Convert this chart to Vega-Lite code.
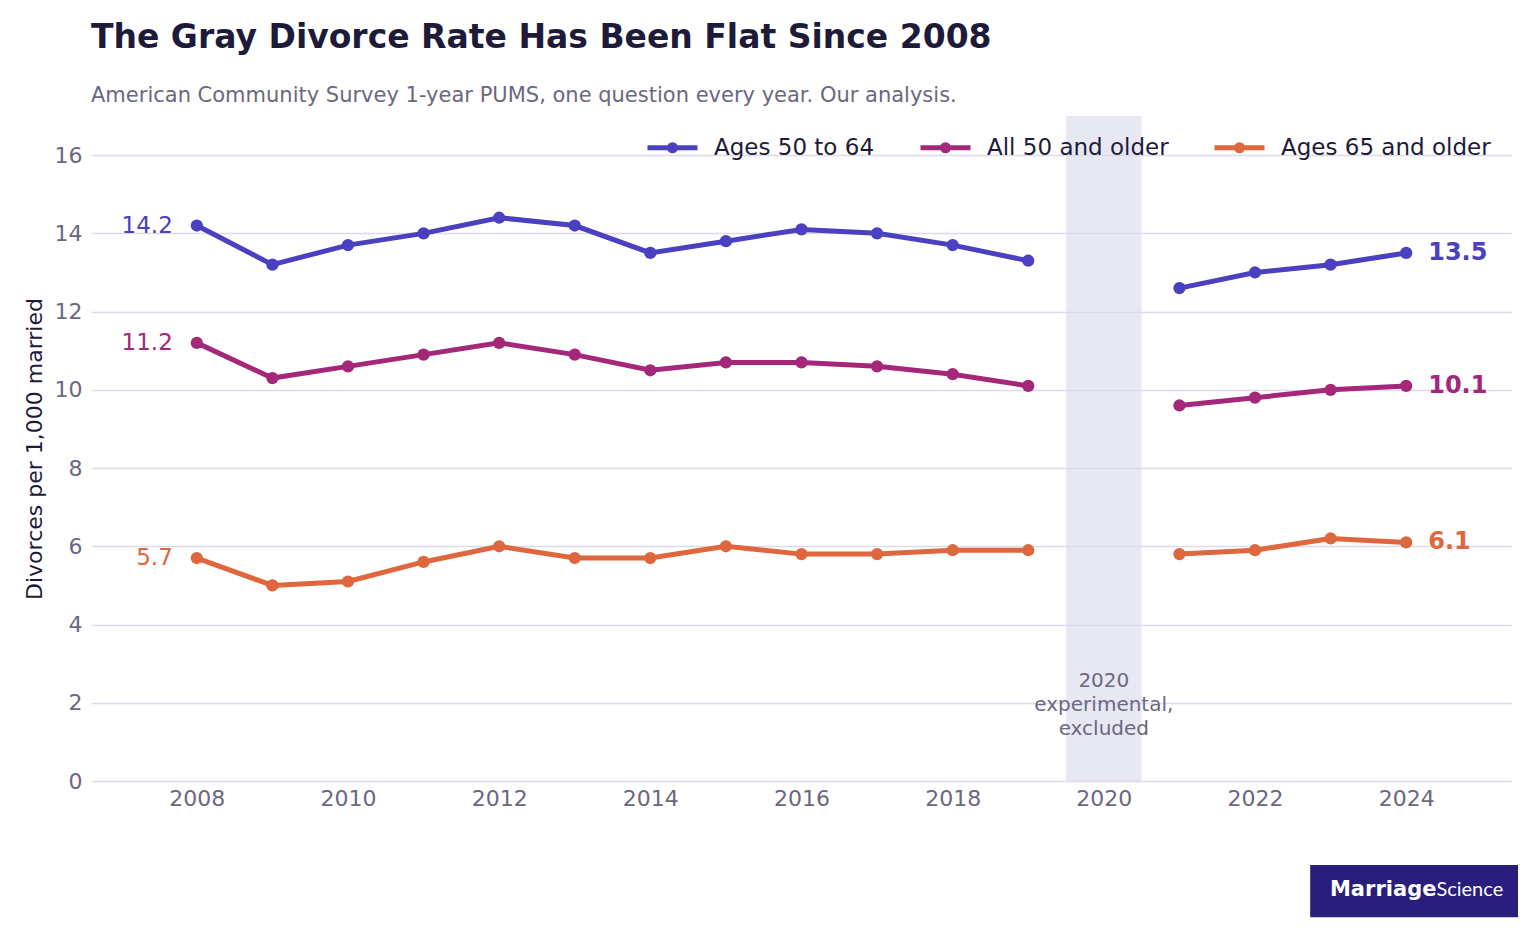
{
  "$schema": "https://vega.github.io/schema/vega-lite/v6.json",
  "autosize": "none",
  "padding": {"left": 91, "top": 116, "right": 24, "bottom": 147},
  "width": 1421,
  "height": 665,
  "background": "white",
  "title": {
    "text": "The Gray Divorce Rate Has Been Flat Since 2008",
    "subtitle": "American Community Survey 1-year PUMS, one question every year. Our analysis.",
    "anchor": "start",
    "frame": "group",
    "font": "DejaVu Sans",
    "fontSize": 33,
    "fontWeight": "bold",
    "color": "#1e1b3a",
    "subtitleFont": "DejaVu Sans",
    "subtitleFontSize": 21,
    "subtitleColor": "#6b6880",
    "subtitlePadding": 30,
    "offset": 10
  },
  "datasets": {
    "rates": [
      {"year": 2008, "group": "Ages 50 to 64", "rate": 14.2, "period": "before"},
      {"year": 2009, "group": "Ages 50 to 64", "rate": 13.2, "period": "before"},
      {"year": 2010, "group": "Ages 50 to 64", "rate": 13.7, "period": "before"},
      {"year": 2011, "group": "Ages 50 to 64", "rate": 14.0, "period": "before"},
      {"year": 2012, "group": "Ages 50 to 64", "rate": 14.4, "period": "before"},
      {"year": 2013, "group": "Ages 50 to 64", "rate": 14.2, "period": "before"},
      {"year": 2014, "group": "Ages 50 to 64", "rate": 13.5, "period": "before"},
      {"year": 2015, "group": "Ages 50 to 64", "rate": 13.8, "period": "before"},
      {"year": 2016, "group": "Ages 50 to 64", "rate": 14.1, "period": "before"},
      {"year": 2017, "group": "Ages 50 to 64", "rate": 14.0, "period": "before"},
      {"year": 2018, "group": "Ages 50 to 64", "rate": 13.7, "period": "before"},
      {"year": 2019, "group": "Ages 50 to 64", "rate": 13.3, "period": "before"},
      {"year": 2021, "group": "Ages 50 to 64", "rate": 12.6, "period": "after"},
      {"year": 2022, "group": "Ages 50 to 64", "rate": 13.0, "period": "after"},
      {"year": 2023, "group": "Ages 50 to 64", "rate": 13.2, "period": "after"},
      {"year": 2024, "group": "Ages 50 to 64", "rate": 13.5, "period": "after"},
      {"year": 2008, "group": "All 50 and older", "rate": 11.2, "period": "before"},
      {"year": 2009, "group": "All 50 and older", "rate": 10.3, "period": "before"},
      {"year": 2010, "group": "All 50 and older", "rate": 10.6, "period": "before"},
      {"year": 2011, "group": "All 50 and older", "rate": 10.9, "period": "before"},
      {"year": 2012, "group": "All 50 and older", "rate": 11.2, "period": "before"},
      {"year": 2013, "group": "All 50 and older", "rate": 10.9, "period": "before"},
      {"year": 2014, "group": "All 50 and older", "rate": 10.5, "period": "before"},
      {"year": 2015, "group": "All 50 and older", "rate": 10.7, "period": "before"},
      {"year": 2016, "group": "All 50 and older", "rate": 10.7, "period": "before"},
      {"year": 2017, "group": "All 50 and older", "rate": 10.6, "period": "before"},
      {"year": 2018, "group": "All 50 and older", "rate": 10.4, "period": "before"},
      {"year": 2019, "group": "All 50 and older", "rate": 10.1, "period": "before"},
      {"year": 2021, "group": "All 50 and older", "rate": 9.6, "period": "after"},
      {"year": 2022, "group": "All 50 and older", "rate": 9.8, "period": "after"},
      {"year": 2023, "group": "All 50 and older", "rate": 10.0, "period": "after"},
      {"year": 2024, "group": "All 50 and older", "rate": 10.1, "period": "after"},
      {"year": 2008, "group": "Ages 65 and older", "rate": 5.7, "period": "before"},
      {"year": 2009, "group": "Ages 65 and older", "rate": 5.0, "period": "before"},
      {"year": 2010, "group": "Ages 65 and older", "rate": 5.1, "period": "before"},
      {"year": 2011, "group": "Ages 65 and older", "rate": 5.6, "period": "before"},
      {"year": 2012, "group": "Ages 65 and older", "rate": 6.0, "period": "before"},
      {"year": 2013, "group": "Ages 65 and older", "rate": 5.7, "period": "before"},
      {"year": 2014, "group": "Ages 65 and older", "rate": 5.7, "period": "before"},
      {"year": 2015, "group": "Ages 65 and older", "rate": 6.0, "period": "before"},
      {"year": 2016, "group": "Ages 65 and older", "rate": 5.8, "period": "before"},
      {"year": 2017, "group": "Ages 65 and older", "rate": 5.8, "period": "before"},
      {"year": 2018, "group": "Ages 65 and older", "rate": 5.9, "period": "before"},
      {"year": 2019, "group": "Ages 65 and older", "rate": 5.9, "period": "before"},
      {"year": 2021, "group": "Ages 65 and older", "rate": 5.8, "period": "after"},
      {"year": 2022, "group": "Ages 65 and older", "rate": 5.9, "period": "after"},
      {"year": 2023, "group": "Ages 65 and older", "rate": 6.2, "period": "after"},
      {"year": 2024, "group": "Ages 65 and older", "rate": 6.1, "period": "after"}
    ]
  },
  "data": {"name": "rates"},
  "layer": [
    {
      "data": {"values": [{}]},
      "mark": {"type": "rect", "color": "#d9d9ee", "opacity": 0.6},
      "encoding": {
        "x": {"datum": 2019.5, "type": "quantitative"},
        "x2": {"datum": 2020.5},
        "y": {"datum": 0, "type": "quantitative"},
        "y2": {"datum": 17}
      }
    },
    {
      "data": {"values": [{}]},
      "mark": {
        "type": "text",
        "align": "center",
        "baseline": "alphabetic",
        "fontSize": 20,
        "lineHeight": 24,
        "color": "#6b6880",
        "text": ["2020", "experimental,", "excluded"]
      },
      "encoding": {
        "x": {"datum": 2020, "type": "quantitative"},
        "y": {"datum": 2.4, "type": "quantitative"}
      }
    },
    {
      "mark": {"type": "line", "strokeWidth": 5, "point": {"filled": true, "size": 150}},
      "encoding": {
        "x": {
          "field": "year",
          "type": "quantitative",
          "scale": {"domain": [2006.6, 2025.4], "nice": false, "zero": false},
          "axis": {
            "title": null,
            "values": [2008, 2010, 2012, 2014, 2016, 2018, 2020, 2022, 2024],
            "format": "d",
            "grid": false,
            "ticks": false,
            "domain": false,
            "labelPadding": 7
          }
        },
        "y": {
          "field": "rate",
          "type": "quantitative",
          "scale": {"domain": [0, 17], "nice": false},
          "axis": {
            "title": "Divorces per 1,000 married",
            "values": [0, 2, 4, 6, 8, 10, 12, 14, 16],
            "grid": true,
            "gridColor": "#dcdcec",
            "gridWidth": 1.5,
            "ticks": false,
            "domain": false,
            "labelPadding": 9,
            "titlePadding": 8
          }
        },
        "color": {
          "field": "group",
          "type": "nominal",
          "scale": {
            "domain": ["Ages 50 to 64", "All 50 and older", "Ages 65 and older"],
            "range": ["#4a40c0", "#a5277a", "#de673d"]
          },
          "legend": {
            "title": null,
            "orient": "none",
            "direction": "horizontal",
            "legendX": 554,
            "legendY": 4,
            "symbolType": "M-1,0H1M0.12,0A0.12,0.12,0,1,1,-0.12,0A0.12,0.12,0,1,1,0.12,0",
            "symbolSize": 2500,
            "symbolStrokeWidth": 5,
            "labelFontSize": 23,
            "labelLimit": 400,
            "labelColor": "#1e1b3a",
            "labelOffset": 14,
            "columnPadding": 35,
            "encode": {
              "symbols": {"update": {"fill": {"field": "value", "scale": "color"}}}
            }
          }
        },
        "detail": {"field": "period"}
      }
    },
    {
      "transform": [{"filter": "datum.year == 2008"}],
      "mark": {"type": "text", "align": "right", "dx": -24, "fontSize": 23, "baseline": "middle"},
      "encoding": {
        "x": {"field": "year", "type": "quantitative"},
        "y": {"field": "rate", "type": "quantitative"},
        "text": {"field": "rate", "type": "quantitative", "format": ".1f"},
        "color": {"field": "group", "type": "nominal"}
      }
    },
    {
      "transform": [{"filter": "datum.year == 2024"}],
      "mark": {"type": "text", "align": "left", "dx": 22, "fontSize": 24, "fontWeight": "bold", "baseline": "middle"},
      "encoding": {
        "x": {"field": "year", "type": "quantitative"},
        "y": {"field": "rate", "type": "quantitative"},
        "text": {"field": "rate", "type": "quantitative", "format": ".1f"},
        "color": {"field": "group", "type": "nominal"}
      }
    },
    {
      "data": {"values": [{}]},
      "mark": {"type": "rect", "color": "#2a1e7c"},
      "encoding": {
        "x": {"datum": 2022.73, "type": "quantitative"},
        "x2": {"datum": 2025.48},
        "y": {"datum": -2.15, "type": "quantitative"},
        "y2": {"datum": -3.48}
      }
    },
    {
      "data": {"values": [{}]},
      "mark": {"type": "text", "text": "Marriage", "align": "right", "baseline": "middle", "font": "DejaVu Sans", "fontWeight": "bold", "fontSize": 21, "color": "white"},
      "encoding": {
        "x": {"datum": 2024.4, "type": "quantitative"},
        "y": {"datum": -2.79, "type": "quantitative"}
      }
    },
    {
      "data": {"values": [{}]},
      "mark": {"type": "text", "text": "Science", "align": "left", "baseline": "middle", "font": "Lato", "fontSize": 20, "color": "white"},
      "encoding": {
        "x": {"datum": 2024.4, "type": "quantitative"},
        "y": {"datum": -2.79, "type": "quantitative"}
      }
    }
  ],
  "config": {
    "font": "DejaVu Sans",
    "view": {"stroke": null},
    "axis": {
      "labelFontSize": 22,
      "labelColor": "#6b6880",
      "titleFontSize": 22,
      "titleFontWeight": "normal",
      "titleColor": "#1e1b3a",
      "gridColor": "#dcdcec",
      "gridWidth": 1.5
    },
    "axisY": {"grid": true}
  }
}
